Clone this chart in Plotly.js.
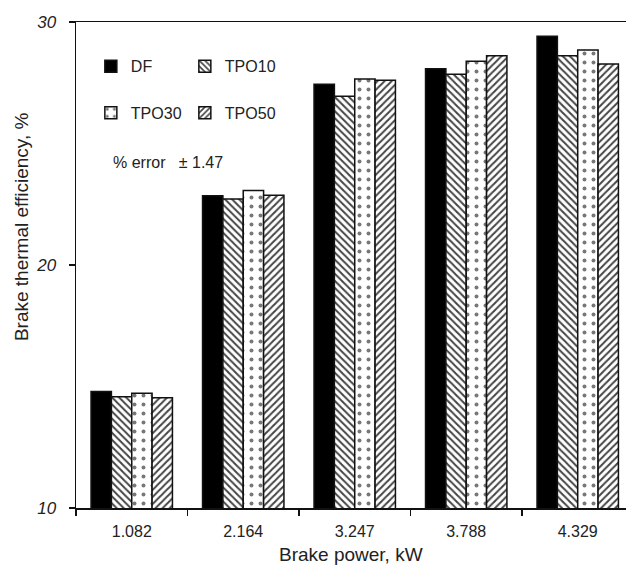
<!DOCTYPE html>
<html>
<head>
<meta charset="utf-8">
<script src="https://cdn.plot.ly/plotly-3.0.1.min.js"></script>
<style>html,body{margin:0;padding:0;background:#fff;}#chart{width:626px;height:565px;}</style>
</head>
<body>
<div id="chart"></div>
<script>
const categories = ["1.082", "2.164", "3.247", "3.788", "4.329"];
const DF    = [14.79, 22.85, 27.44, 28.08, 29.41];
const TPO10 = [14.58, 22.72, 26.94, 27.85, 28.61];
const TPO30 = [14.72, 23.07, 27.65, 28.38, 28.85];
const TPO50 = [14.54, 22.87, 27.60, 28.61, 28.27];
const seriesNames = ["DF", "TPO10", "TPO30", "TPO50"];

const fam = "Liberation Sans, Arial, sans-serif";
const font = {family: fam, size: 16, color: "#222"};
const line = {color: "#111", width: 1.5};

const traces = [
  {type: "bar", name: seriesNames[0], x: categories, y: DF, legend: "legend",
   marker: {color: "#000", line: line}},
  {type: "bar", name: seriesNames[1], x: categories, y: TPO10, legend: "legend",
   marker: {color: "#fff", line: line, pattern: {shape: "\\", fgcolor: "#444", bgcolor: "#fff", size: 5, solidity: 0.4}}},
  {type: "bar", name: seriesNames[2], x: categories, y: TPO30, legend: "legend2",
   marker: {color: "#fff", line: line, pattern: {shape: ".", fgcolor: "#777", bgcolor: "#fff", size: 9, solidity: 0.15}}},
  {type: "bar", name: seriesNames[3], x: categories, y: TPO50, legend: "legend2",
   marker: {color: "#fff", line: line, pattern: {shape: "/", fgcolor: "#444", bgcolor: "#fff", size: 5, solidity: 0.4}}}
];

const layout = {
  width: 626, height: 565,
  margin: {l: 76, r: 0, t: 22, b: 57},
  paper_bgcolor: "#fff", plot_bgcolor: "#fff",
  font: font,
  barmode: "group", bargap: 0.27, bargroupgap: 0,
  xaxis: {
    type: "category", range: [-0.5, 4.433],
    showline: true, linecolor: "#111", linewidth: 1.5, mirror: true,
    ticks: "outside", tickson: "boundaries", ticklen: 6, tickcolor: "#111", tickwidth: 1.5,
    showgrid: false, zeroline: false, ticklabelstandoff: 8,
    tickfont: {family: fam, size: 16, color: "#222"}
  },
  yaxis: {
    range: [10, 30], tickvals: [10, 20, 30], ticktext: ["10", "20", "30"],
    showline: true, linecolor: "#111", linewidth: 1.5,
    ticks: "outside", ticklen: 6, tickcolor: "#111", tickwidth: 1.5,
    showgrid: false, zeroline: false, ticklabelstandoff: 9,
    tickfont: {family: fam, size: 17, color: "#222", style: "italic"}
  },
  legend: {orientation: "h", x: 0.027, y: 0.909, xanchor: "left", yanchor: "middle",
    bgcolor: "rgba(0,0,0,0)", font: font, entrywidth: 49, itemwidth: 30, traceorder: "normal"},
  legend2: {orientation: "h", x: 0.027, y: 0.813, xanchor: "left", yanchor: "middle",
    bgcolor: "rgba(0,0,0,0)", font: font, entrywidth: 49, itemwidth: 30, traceorder: "normal"},
  annotations: [
    {text: "% error   \u00b1 1.47", xref: "paper", yref: "paper", x: 0.064, y: 0.71,
     xanchor: "left", yanchor: "middle", showarrow: false, font: font},
    {text: "Brake power, kW", xref: "paper", yref: "paper", x: 0.5, y: -0.095,
     xanchor: "center", yanchor: "middle", showarrow: false, font: {family: fam, size: 19, color: "#222"}},
    {text: "Brake thermal efficiency, %", xref: "paper", yref: "paper", x: -0.1, y: 0.578,
     xanchor: "center", yanchor: "middle", textangle: -90, showarrow: false,
     font: {family: fam, size: 19, color: "#222"}}
  ]
};

Plotly.newPlot("chart", traces, layout, {displayModeBar: false, staticPlot: true});
</script>
</body>
</html>
